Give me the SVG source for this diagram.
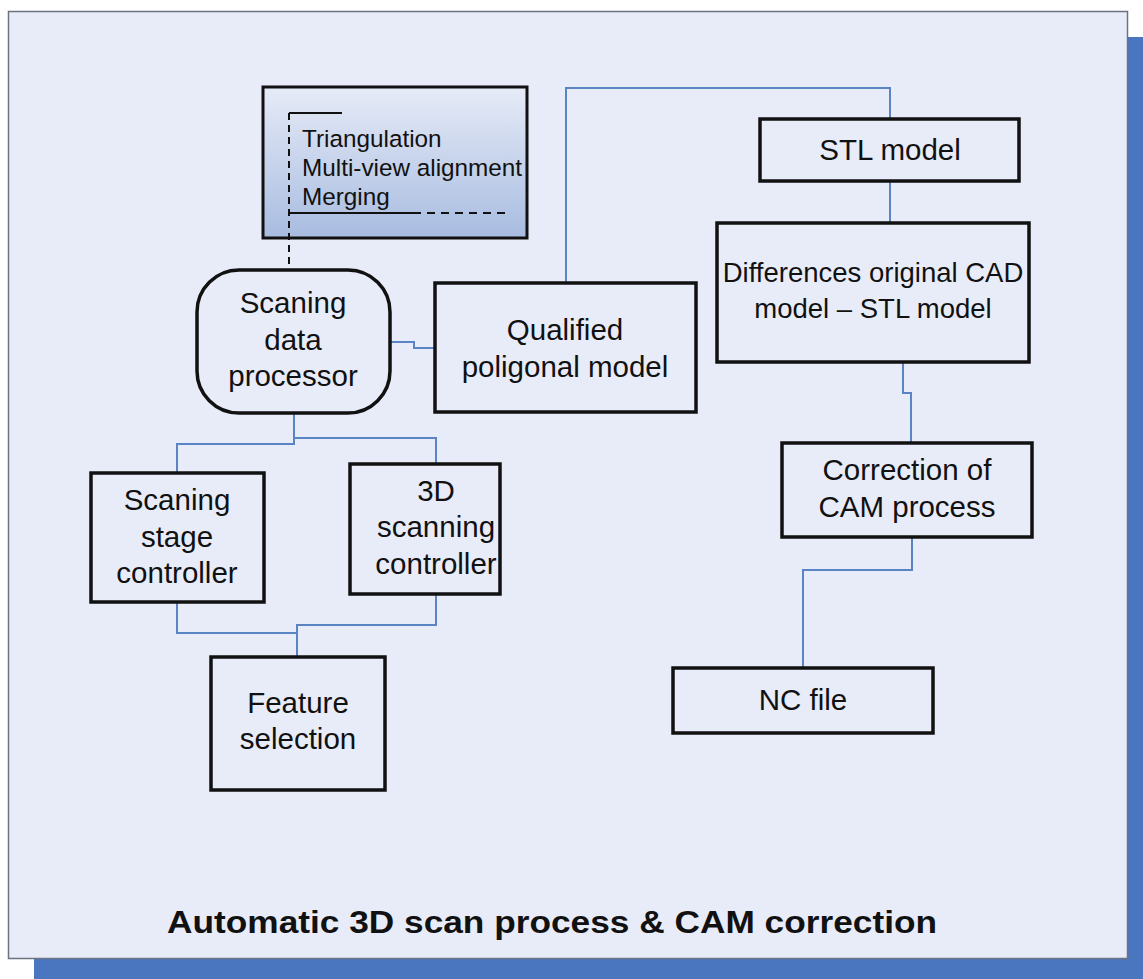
<svg xmlns="http://www.w3.org/2000/svg" width="1143" height="979" viewBox="0 0 1143 979">
<defs>
<linearGradient id="g1" x1="0" y1="0" x2="0" y2="1">
<stop offset="0" stop-color="#e6ebf7"/>
<stop offset="1" stop-color="#a8bce0"/>
</linearGradient>
</defs>
<style>
.box{fill:none;stroke:#111;stroke-width:3.5}
.t{font-family:"Liberation Sans",Arial,sans-serif;font-size:29.5px;fill:#111;text-anchor:middle}
.s{font-family:"Liberation Sans",Arial,sans-serif;font-size:24.3px;fill:#111}
.c{fill:none;stroke:#5b84c4;stroke-width:2}
.d{fill:none;stroke:#111;stroke-width:2}
</style>
<rect x="0" y="0" width="1143" height="979" fill="#ffffff"/>
<rect x="34" y="37" width="1109" height="942" fill="#4a76c0"/>
<rect x="8.5" y="11.5" width="1119" height="947" fill="#e8ecf8" stroke="#6b7280" stroke-width="1.5"/>

<g id="processing">
<rect x="263" y="87" width="264" height="151" fill="url(#g1)" stroke="#111" stroke-width="3"/>
<path class="d" d="M289,113 H342"/>
<path class="d" d="M289,213 H413"/>
<path class="d" d="M413,213 H507" stroke-dasharray="8,6"/>
<text class="s" x="302" y="147">Triangulation</text>
<text class="s" x="302" y="176">Multi-view alignment</text>
<text class="s" x="302" y="205">Merging</text>
</g>

<g id="connectors">
<path class="d" d="M289,113 V270" stroke-dasharray="7,5"/>
<path class="c" d="M390,342 H414 V348 H435"/>
<path class="c" d="M566,283 V88 H890 V119"/>
<path class="c" d="M890,181 V223"/>
<path class="c" d="M903,362 V393 H911 V443"/>
<path class="c" d="M912,537 V570 H803 V668"/>
<path class="c" d="M294,413 V444 H177 V473"/>
<path class="c" d="M294,438 H436 V464"/>
<path class="c" d="M177,602 V633 H297"/>
<path class="c" d="M436,594 V625 H297 V657"/>
</g>

<g id="scaning-data-processor">
<rect class="box" x="197" y="270" width="193" height="143" rx="42" ry="42"/>
<text class="t" x="293" y="313">Scaning</text>
<text class="t" x="293" y="350">data</text>
<text class="t" x="293" y="386">processor</text>
</g>

<g id="qualified">
<rect class="box" x="435" y="283" width="261" height="129"/>
<text class="t" x="565" y="340">Qualified</text>
<text class="t" x="565" y="377">poligonal model</text>
</g>

<g id="stl-model">
<rect class="box" x="760" y="119" width="259" height="62"/>
<text class="t" x="890" y="160">STL model</text>
</g>

<g id="differences">
<rect class="box" x="717" y="223" width="312" height="139"/>
<text class="t" x="873" y="282" style="font-size:27.5px">Differences original CAD</text>
<text class="t" x="873" y="318" style="font-size:27.5px">model – STL model</text>
</g>

<g id="correction">
<rect class="box" x="782" y="443" width="250" height="94"/>
<text class="t" x="907" y="480">Correction of</text>
<text class="t" x="907" y="517">CAM process</text>
</g>

<g id="nc-file">
<rect class="box" x="673" y="668" width="260" height="65"/>
<text class="t" x="803" y="710">NC file</text>
</g>

<g id="scaning-stage-controller">
<rect class="box" x="91" y="473" width="173" height="129"/>
<text class="t" x="177" y="510">Scaning</text>
<text class="t" x="177" y="547">stage</text>
<text class="t" x="177" y="583">controller</text>
</g>

<g id="scanning-controller">
<rect class="box" x="350" y="464" width="150" height="130"/>
<text class="t" x="436" y="501">3D</text>
<text class="t" x="436" y="537">scanning</text>
<text class="t" x="436" y="574">controller</text>
</g>

<g id="feature-selection">
<rect class="box" x="211" y="657" width="174" height="133"/>
<text class="t" x="298" y="713">Feature</text>
<text class="t" x="298" y="749">selection</text>
</g>

<text x="167" y="933" textLength="770" lengthAdjust="spacingAndGlyphs" style="font-family:'Liberation Sans',Arial,sans-serif;font-size:32px;font-weight:bold;fill:#111">Automatic 3D scan process &amp; CAM correction</text>
</svg>
